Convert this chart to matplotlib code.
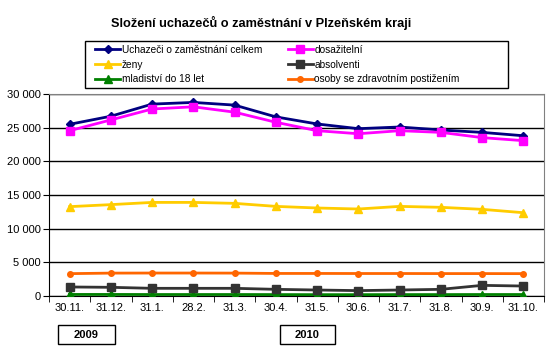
import matplotlib
matplotlib.use("Agg")
import matplotlib.pyplot as plt
from matplotlib.ticker import FuncFormatter, MultipleLocator, FixedLocator
from matplotlib.patches import Rectangle

plt.rcParams['font.family'] = ['Liberation Sans', 'DejaVu Sans']

categories = ["30.11.", "31.12.", "31.1.", "28.2.", "31.3.", "30.4.", "31.5.",
              "30.6.", "31.7.", "31.8.", "30.9.", "31.10."]
celkem = [25500, 26700, 28500, 28750, 28350, 26600, 25550, 24850, 25100, 24650, 24300, 23800]
dosazitelni = [24550, 26150, 27770, 28100, 27300, 25800, 24550, 24100, 24550, 24300, 23520, 23070]
zeny = [13270, 13570, 13900, 13900, 13760, 13310, 13070, 12920, 13310, 13170, 12870, 12370]
absolventi = [1340, 1290, 1140, 1140, 1140, 990, 890, 800, 890, 990, 1580, 1480]
mladistvi = [230, 230, 220, 220, 220, 210, 200, 200, 210, 210, 220, 220]
osoby = [3320, 3400, 3410, 3410, 3400, 3350, 3350, 3340, 3340, 3330, 3330, 3320]
years = ["2009", "2010"]

W, H = 557, 354
fig = plt.figure(figsize=(5.57, 3.54), dpi=100)
ax = fig.add_axes([49/W, 58/H, 495/W, 202/H])

x = list(range(len(categories)))
series = [
    ("Uchazeči o zaměstnání celkem", celkem, "#000080", "D", 4),
    ("ženy", zeny, "#FFCC00", "^", 6),
    ("mladiství do 18 let", mladistvi, "#008000", "^", 6),
    ("dosažitelní", dosazitelni, "#FF00FF", "s", 6),
    ("absolventi", absolventi, "#333333", "s", 6),
    ("osoby se zdravotním postižením", osoby, "#FF6600", "o", 4),
]
handles = []
for label, vals, col, mk, ms in series:
    h, = ax.plot(x, vals, color=col, marker=mk, markersize=ms, linewidth=2,
                 label=label, zorder=3)
    handles.append(h)

ax.set_xlim(-0.5, len(categories) - 0.5)
ax.set_ylim(0, 30000)
ax.yaxis.set_major_locator(MultipleLocator(5000))
ax.yaxis.set_major_formatter(FuncFormatter(lambda v, p: f"{int(v):,}".replace(",", " ")))
ax.set_xticks(x)
ax.set_xticklabels(categories)
ax.xaxis.set_minor_locator(FixedLocator([i - 0.5 for i in range(len(categories) + 1)]))
ax.tick_params(axis='x', which='major', length=0, pad=5, labelsize=8)
ax.tick_params(axis='x', which='minor', length=4, direction='out', color='black')
ax.tick_params(axis='y', length=4, direction='out', labelsize=8, pad=2)
ax.grid(axis='y', color='black', linewidth=1, zorder=1)
ax.set_axisbelow(True)
for s in ['top', 'right']:
    ax.spines[s].set_color('#808080')
for s in ['left', 'bottom']:
    ax.spines[s].set_color('black')

fig.text(261/W, 1 - 23/H, "Složení uchazečů o zaměstnání v Plzeňském kraji",
         ha='center', va='center', fontsize=9.2, fontweight='bold')

# legend box
fig.patches.append(Rectangle((85/W, 1 - 88/H), 423/W, 47/H,
                             transform=fig.transFigure, facecolor='white',
                             edgecolor='black', linewidth=1, zorder=0))
leg = fig.legend(handles=handles, ncol=2, loc='upper left',
                 bbox_to_anchor=(95/W, 1 - 45/H), fontsize=7.3,
                 frameon=False, borderpad=0, labelspacing=0.45,
                 handlelength=2.5, handletextpad=0.15, columnspacing=2.5,
                 borderaxespad=0)

for yr, (x0, x1) in zip(years, [(58, 115), (280, 335)]):
    fig.patches.append(Rectangle((x0/W, 1 - 344/H), (x1 - x0)/W, 19/H,
                                 transform=fig.transFigure, facecolor='white',
                                 edgecolor='black', linewidth=1))
    fig.text((x0 + x1)/2/W, 1 - 334.5/H, yr, ha='center', va='center',
             fontsize=8, fontweight='bold')

fig.savefig("out.png", dpi=100)
